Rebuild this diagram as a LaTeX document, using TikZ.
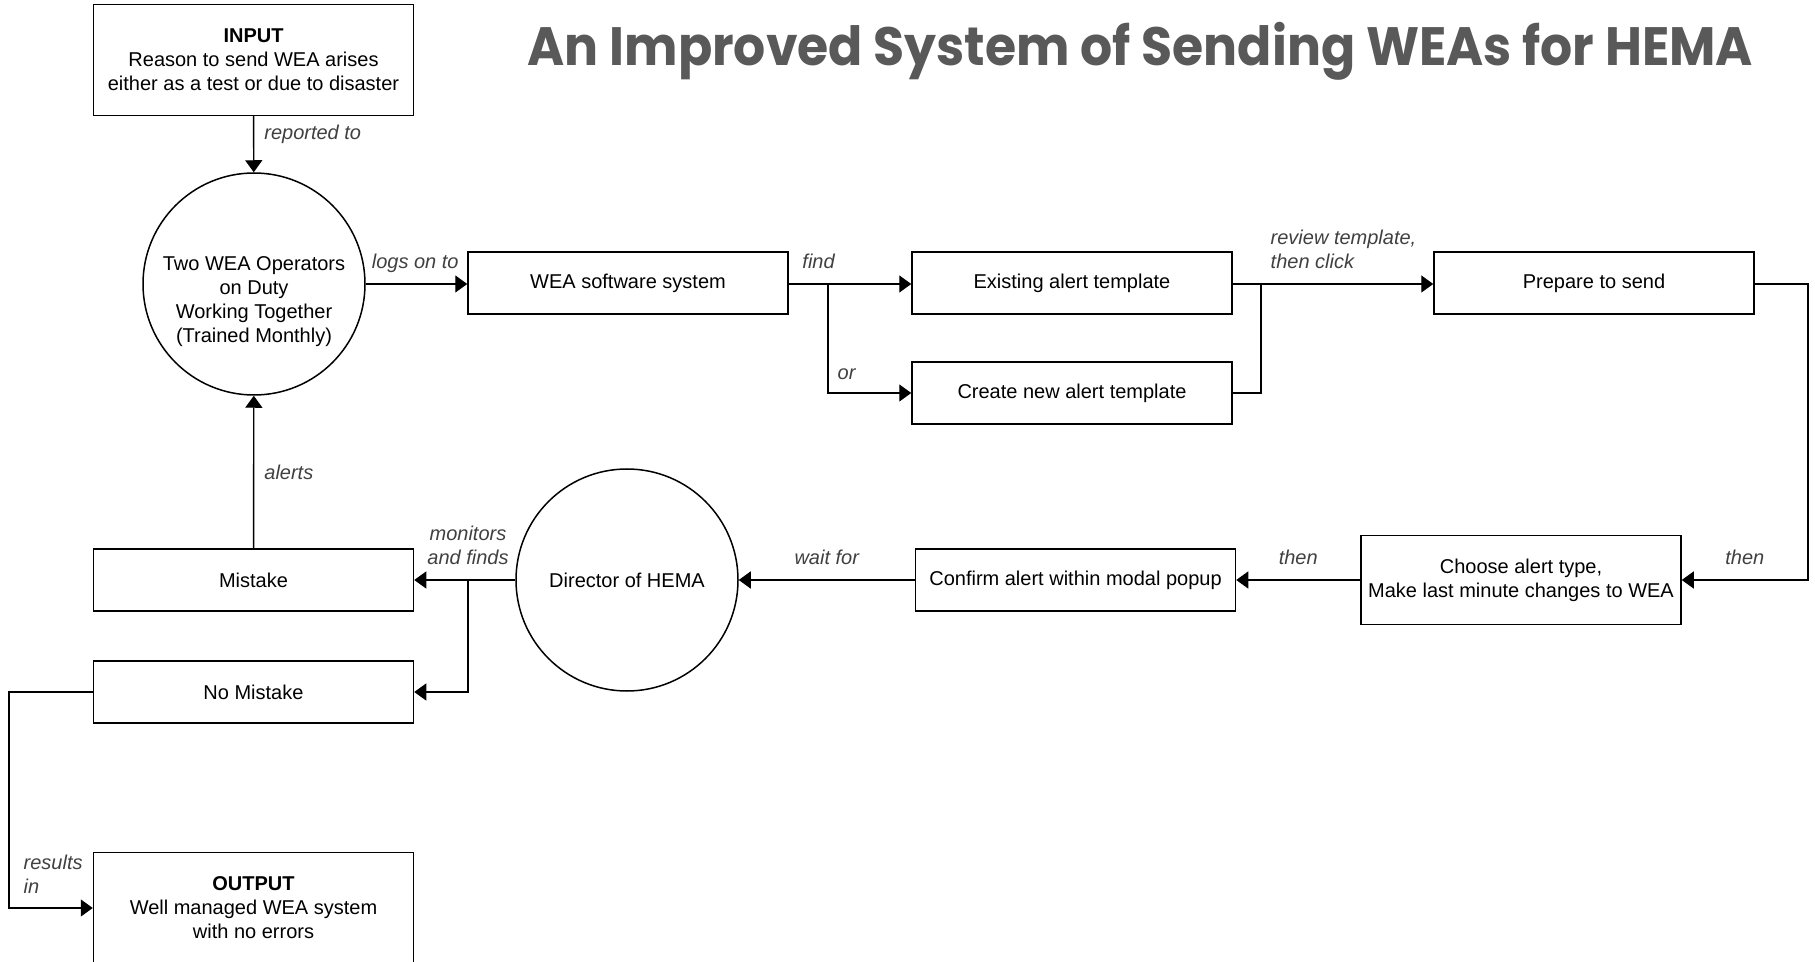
\documentclass[tikz,border=0pt]{standalone}
\usepackage{fontspec}
\setmainfont{Liberation Sans}
\newfontfamily\titlefont{Poppins}
\usetikzlibrary{arrows.meta}
\definecolor{titlegray}{HTML}{595959}

\begin{document}
\begin{tikzpicture}[x=0.5pt, y=-0.5pt, >={Triangle[length=6pt, width=8.5pt]},
        font=\fontsize{10}{12}\selectfont, line width=0.7pt,
        box/.style = {draw, line width=0.75pt, minimum width=160pt, minimum height=31pt, align=center, inner sep=2pt},
        bigbox/.style = {box, minimum height=55.5pt},
        midbox/.style = {box, minimum height=44.5pt},
        main/.style = {circle, draw, line width=0.75pt, minimum size=111pt, align=center, inner sep=0pt},
        lbl/.style = {font=\fontsize{10}{12}\selectfont\itshape, text=black!75, inner sep=0pt, text depth=0pt}]
            \useasboundingbox (0,0) rectangle (1815,962);

            % Title
            \node[anchor=base west, inner sep=0pt, text=titlegray, font=\titlefont\bfseries\fontsize{27}{30}\selectfont] (title) at (527,66) {\scalebox{0.935}[1]{An Improved System of Sending WEAs for HEMA}};

            % Nodes
            \node[bigbox] (input) at (253.5,60) {\textbf{INPUT}\\Reason to send WEA arises\\either as a test or due to disaster};
            \node[main] (ops) at (254,284) {};
            \node[align=center, inner sep=0pt] (opstext) at ([yshift=-9pt]ops.center) {Two WEA Operators\\on Duty\\Working Together\\(Trained Monthly)};
            \node[box] (wea) at (628,283) {WEA software system};
            \node[box] (exist) at (1072,283) {Existing alert template};
            \node[box] (newt) at (1072,393) {Create new alert template};
            \node[box] (prep) at (1594,283) {Prepare to send};
            \node[midbox] (choose) at (1521,580) {Choose alert type,\\Make last minute changes to WEA};
            \node[box] (confirm) at (1075.5,580) {Confirm alert within modal popup};
            \node[main] (director) at (627,580) {Director of HEMA};
            \node[box] (mistake) at (253.5,580) {Mistake};
            \node[box] (nomistake) at (253.5,692) {No Mistake};
            \node[bigbox] (output) at (253.5,908) {\textbf{OUTPUT}\\Well managed WEA system\\with no errors};

            % Corners
            \coordinate (split) at (828,284);
            \coordinate (join) at (1261,284);
            \coordinate (turn) at (1808,284);
            \coordinate (fork) at (468,580);
            \coordinate (back) at (9,692);

            % Lines
            \draw[->] (input) -- (ops) node[lbl, pos=0.29, anchor=west, xshift=5pt] (lreport) {reported to};
            \draw[->] (ops.east) -- (ops.east -| wea.west) node[lbl, pos=1, anchor=south east, xshift=-4pt, yshift=7.5pt] (llogs) {logs on to};
            \draw[->] (wea.east |- split) node[lbl, anchor=south west, xshift=6.5pt, yshift=7.5pt] (lfind) {find} -- (split) -- (split -| exist.west);
            \draw[->] (split) |- (newt) node[lbl, pos=0.5, anchor=south west, xshift=4.5pt, yshift=6.5pt] (lor) {or};
            \draw (newt) -| (join);
            \draw[->] (exist.east |- join) -- (join) -- (join -| prep.west);
            \node[lbl, align=left, anchor=south west, xshift=4.5pt, yshift=7.5pt] (lreview) at (join) {review template,\\then click};
            \draw[->] (prep.east |- turn) -- (turn) |- (choose) node[lbl, pos=0.75, anchor=south, yshift=7.5pt] (lthen1) {then};
            \draw[->] (choose) -- (confirm) node[lbl, midway, anchor=south, yshift=7.5pt] (lthen2) {then};
            \draw[->] (confirm) -- (director) node[lbl, midway, anchor=south, yshift=7.5pt] (lwait) {wait for};
            \draw[->] (director) -- (mistake);
            \node[lbl, align=center, anchor=south, yshift=7.5pt] (lmonitor) at (fork) {monitors\\and finds};
            \draw[->] (fork) |- (nomistake);
            \draw[->] (mistake) -- (ops) node[lbl, midway, anchor=west, xshift=5pt] (lalert) {alerts};
            \draw[->] (nomistake) -- (back) |- (output) node[lbl, pos=0.5, align=left, anchor=south west, xshift=7pt, yshift=7pt] (lresult) {results\\in};
        \end{tikzpicture}
\end{document}
